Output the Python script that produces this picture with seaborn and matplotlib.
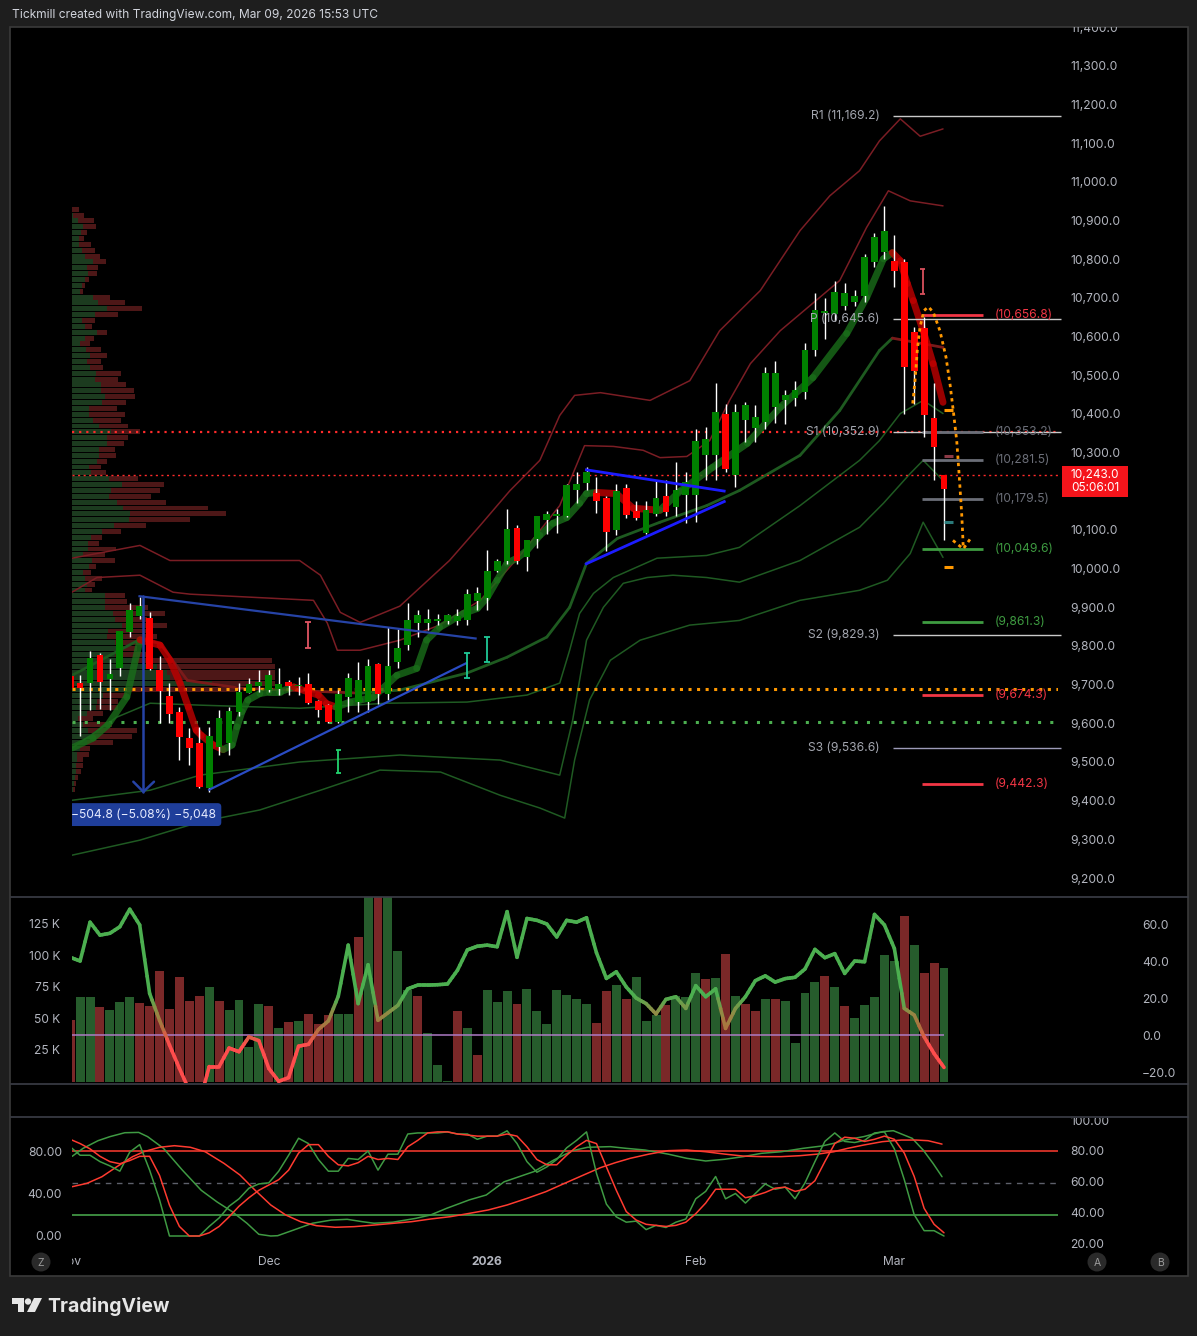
import matplotlib
matplotlib.use("Agg")
import matplotlib.pyplot as plt
import matplotlib.transforms as mtransforms
from matplotlib.collections import LineCollection
from matplotlib.colors import LinearSegmentedColormap, Normalize
from matplotlib.lines import Line2D
from matplotlib.patches import Rectangle, Circle, Polygon
import numpy as np
import seaborn as sns

# --- canvas (pixels) ---
W, H = 1197, 1336

# --- daily bars: index -1 is the half-hidden bar at the left edge ---
BAR = list(range(-1, 88))
OPEN = [9722, 9704, 9704, 9776, 9714, 9743, 9836, 9878, 9873, 9737,
        9670, 9629, 9561, 9548, 9433, 9538, 9548, 9629, 9679, 9697,
        9687, 9690, 9707, 9697, 9701, 9657, 9647, 9604, 9668, 9655,
        9655, 9753, 9677, 9758, 9803, 9860, 9860, 9864, 9864, 9864,
        9866, 9915, 9924, 9993, 10020, 10106, 10030, 10076, 10126, 10137,
        10137, 10204, 10221, 10195, 10182, 10099, 10209, 10149, 10092, 10140,
        10187, 10159, 10191, 10191, 10293, 10293, 10399, 10241, 10385, 10363,
        10379, 10419, 10435, 10441, 10456, 10566, 10660, 10659, 10680, 10690,
        10706, 10794, 10820, 10796, 10794, 10611, 10621, 10389, 10243]
HIGH = [9730, 9724, 9787, 9783, 9766, 9840, 9910, 9927, 9888, 9774,
        9703, 9643, 9587, 9590, 9591, 9634, 9642, 9703, 9716, 9737,
        9737, 9742, 9713, 9720, 9730, 9660, 9650, 9686, 9729, 9759,
        9766, 9756, 9849, 9845, 9910, 9892, 9895, 9882, 9882, 9895,
        9947, 9952, 10047, 10024, 10155, 10113, 10075, 10135, 10148, 10155,
        10220, 10250, 10264, 10238, 10189, 10218, 10220, 10176, 10176, 10226,
        10229, 10275, 10250, 10362, 10366, 10479, 10426, 10426, 10430, 10422,
        10521, 10538, 10461, 10486, 10584, 10712, 10700, 10745, 10738, 10721,
        10813, 10869, 10937, 10863, 10800, 10624, 10650, 10479, 10243]
LOW = [9680, 9568, 9634, 9636, 9634, 9722, 9823, 9871, 9738, 9602,
       9600, 9505, 9492, 9432, 9423, 9518, 9518, 9620, 9678, 9681,
       9681, 9673, 9673, 9673, 9650, 9617, 9600, 9600, 9629, 9629,
       9629, 9651, 9660, 9743, 9789, 9823, 9842, 9853, 9856, 9853,
       9853, 9894, 9894, 9990, 10013, 10011, 9993, 10053, 10089, 10093,
       10133, 10169, 10204, 10144, 10045, 10086, 10130, 10125, 10090, 10135,
       10135, 10135, 10118, 10120, 10228, 10228, 10250, 10210, 10327, 10327,
       10361, 10377, 10375, 10420, 10439, 10551, 10594, 10640, 10670, 10680,
       10690, 10780, 10800, 10727, 10400, 10426, 10340, 10228, 10073]
CLOSE = [9692, 9692, 9768, 9707, 9727, 9839, 9894, 9903, 9740, 9684,
         9623, 9565, 9537, 9436, 9568, 9615, 9631, 9681, 9701, 9707,
         9724, 9701, 9696, 9700, 9653, 9634, 9604, 9675, 9716, 9711,
         9748, 9675, 9748, 9796, 9866, 9879, 9869, 9869, 9879, 9877,
         9935, 9938, 9993, 10021, 10103, 10021, 10075, 10135, 10142, 10142,
         10215, 10218, 10251, 10174, 10095, 10202, 10138, 10131, 10151, 10183,
         10146, 10204, 10223, 10329, 10336, 10406, 10258, 10404, 10424, 10393,
         10505, 10505, 10448, 10461, 10566, 10670, 10667, 10716, 10712, 10706,
         10807, 10857, 10874, 10769, 10521, 10510, 10396, 10314, 10207]
LAST_PRICE = 10243.0
COUNTDOWN = "05:06:01"

# --- volume (thousands) and its bar colour (1 = up) ---
VOLUME = [48.8, 66.8, 66.8, 58.9, 56.7, 62.8, 66.8, 62.0, 59.9, 87.7,
          57.5, 82.7, 63.9, 67.9, 74.8, 63.9, 56.7, 64.7, 27.6, 61.5,
          59.9, 42.7, 47.2, 48.0, 53.6, 45.6, 52.5, 53.6, 53.6, 114.7,
          170.0, 160.0, 150.0, 103.6, 72.6, 67.9, 38.2, 13.1, 0.4, 56.0,
          42.7, 21.3, 72.6, 63.1, 71.8, 61.5, 73.4, 56.0, 45.6, 72.6,
          68.7, 65.5, 61.5, 46.4, 72.1, 76.6, 65.7, 82.7, 48.0, 52.8,
          60.7, 67.9, 67.3, 85.9, 81.1, 81.9, 101.2, 67.9, 61.5, 56.0,
          65.5, 65.5, 63.9, 30.6, 70.2, 79.0, 83.7, 75.0, 59.9, 50.4,
          60.7, 67.1, 100.4, 95.9, 131.4, 108.3, 86.1, 94.1, 90.1]
VOL_UP = [0, 1, 1, 0, 1, 1, 1, 0, 0, 0,
          0, 0, 0, 0, 1, 0, 1, 1, 1, 1,
          0, 1, 0, 1, 0, 0, 0, 1, 1, 0,
          1, 0, 1, 1, 1, 0, 1, 1, 1, 0,
          1, 0, 1, 1, 1, 0, 1, 1, 1, 1,
          1, 1, 1, 0, 0, 1, 0, 1, 1, 1,
          0, 1, 1, 1, 0, 1, 0, 1, 0, 0,
          1, 0, 1, 1, 1, 1, 0, 1, 0, 1,
          1, 1, 1, 1, 0, 1, 0, 0, 1]

# --- momentum oscillator drawn over the volume pane ---
OSC = [42, 40, 61, 54, 55, 58.5, 68, 59.5, 22.5, 8,
       -5.4, -18, -30, -37, -17, -17, -7, -9, -1, -3,
       -18, -25, -23, -6, -5, 3, 7.6, 21, 48.6, 17,
       38, 8, 12, 16, 25, 27, 27, 27.2, 27.6, 35,
       46, 48, 48.6, 47.7, 66.7, 42, 63, 62, 60, 53,
       62, 61, 63.4, 44.5, 30.6, 34.2, 26, 20, 17, 11.4,
       19.3, 20.7, 14.4, 26.7, 20.7, 25, 3.6, 14.4, 20.7, 29.4,
       32, 28.6, 30.5, 31.2, 35.7, 46.3, 41.8, 44, 33.3, 40,
       39.6, 65.2, 59.5, 46.8, 14.4, 10.8, -1, -10, -17.5]

# --- stochastics (bottom pane) ---
K_FAST = [84, 76, 76, 70, 66, 61, 79, 86, 62, 34,
          0, 0, 0, 0, 9, 17, 28, 35, 45, 49,
          50, 61, 76, 92, 87, 72, 61, 61, 73, 72,
          80, 62, 77, 77, 96, 97, 97, 97, 98, 96,
          96, 91, 94, 94, 99, 87, 70, 60, 65, 72,
          83, 90, 98, 59, 30, 18, 13, 14, 6, 10,
          8, 13, 16, 35, 42, 56, 35, 40, 31, 40,
          49, 44, 46, 35, 50, 70, 89, 97, 89, 88,
          90, 97, 98, 82, 53, 20, 5, 5, 0]
D_FAST = [91, 87, 82, 75, 70, 68, 71, 75, 75, 57,
          29, 9, 0, 0, 3, 9, 18, 28, 36, 43,
          48, 53, 62, 78, 86, 86, 75, 67, 66, 69,
          75, 72, 73, 72, 84, 90, 97, 98, 98, 96,
          95, 94, 94, 94, 96, 94, 84, 72, 67, 67,
          76, 84, 90, 87, 65, 43, 23, 15, 11, 10,
          9, 10, 13, 21, 31, 44, 44, 44, 36, 38,
          41, 45, 46, 42, 44, 52, 70, 87, 93, 92,
          89, 91, 94, 91, 78, 56, 26, 11, 3]
SLOW_K_X = [-0.8, 0.3, 1.8, 3.0, 4.5, 5.9, 6.8, 8.4, 10.3, 12.2, 13.8, 15.3, 16.8, 18.0,
            19.2, 19.9, 21.5, 23.4, 25.3, 26.9, 28.4, 29.6, 31.5, 33.8, 35.3, 36.9, 39.2,
            40.9, 42.7, 44.2, 45.7, 47.7, 49.6, 51.1, 53.4, 55.0, 56.9, 59.2, 61.1, 63.0,
            64.9, 66.8, 68.6, 70.6, 72.8, 74.7, 75.9, 77.0, 78.9, 80.8, 81.9, 83.8, 84.9,
            85.9, 86.8]
SLOW_K = [75, 82.5, 89.7, 93.5, 97.2, 97.5, 93.5, 82.5, 62, 43, 32, 23, 12, 1.6,
          0, 0.3, 5.6, 12, 15, 15.7, 13.5, 12, 13, 16.6, 19.8, 26, 34,
          38.6, 51, 55.8, 60.6, 71.5, 80.3, 83.5, 84.1, 82.5, 80.9, 77.1, 73.1, 70.6,
          72.2, 74.7, 77.8, 79.3, 82.5, 84.7, 87.2, 90.3, 93.5, 98.2, 99.1, 91.9, 80.9,
          68.3, 55.8]
SLOW_D_X = [-0.8, 0.7, 2.2, 3.7, 5.3, 6.4, 8.0, 9.5, 11.1, 12.6, 14.5, 16.1, 17.6, 19.2,
            20.7, 22.2, 23.8, 25.7, 27.6, 29.6, 31.5, 33.4, 35.3, 37.3, 39.2, 41.1, 43.0,
            45.0, 46.9, 48.8, 50.7, 52.4, 53.9, 55.4, 57.3, 59.2, 61.1, 63.0, 64.9, 66.8,
            68.6, 70.6, 72.5, 74.3, 75.9, 77.3, 78.9, 80.8, 82.7, 84.2, 85.4, 86.8]
SLOW_D = [46.4, 49.6, 55.8, 65.2, 74.7, 79.3, 83.5, 85, 83.5, 79.3, 68.3, 57.4, 43.3, 29.2,
          19.8, 13.5, 9.7, 8.2, 8.8, 10.3, 11.9, 13.5, 16, 18.2, 21.3, 24.5, 29.2,
          35.4, 41.7, 49.6, 57.4, 64.3, 69, 73.1, 77.1, 80.3, 80.9, 79.3, 77.1, 75.2,
          74.7, 74.7, 75.6, 77.1, 79.3, 82.5, 85.6, 88.8, 90.3, 90.3, 89.7, 86.5]
STOCH_LEVELS = [80, 50, 20]

# --- volume profile rows (top -> bottom), buy / sell volume ---
VP_TOP = 10937
VP_ROW = 15.15
VP_UP = [0, 1.3, 6.3, 11.3, 9, 7.3, 7.3, 10.3, 13.3, 21.3,
         15.3, 16, 13, 10, 8, 21.3, 26, 35, 23, 10,
         13.3, 25, 13, 8, 14, 18, 15.3, 18, 24, 23,
         29, 29, 33, 30, 17.3, 17.3, 21.3, 27.3, 39, 35,
         35, 27, 27, 25, 17, 19, 37, 50, 39, 37,
         45, 51, 58, 57, 42, 30, 19, 16, 16, 11,
         20, 17, 11, 13, 14.7, 13, 33, 33, 33, 41.3,
         43, 49.7, 36.3, 34.7, 43, 44.7, 43, 64.7, 84.7, 94.7,
         98, 139.7, 54.7, 31.3, 24.7, 24, 14.7, 6.3, 11.3, 16.3,
         21.3, 14.7, 8, 4.7, 4.7, 4, 4, 3, 2, 1.3]
VP_DOWN = [7, 10.7, 15.7, 12.7, 6, 4.7, 11.7, 12.7, 14.7, 12.7,
           10.7, 9, 4, 3, 3, 16.7, 27, 35, 23, 13,
           6.7, 10, 9, 10, 15, 17, 13.7, 13, 25, 23,
           25, 33, 30, 24, 27.7, 35.7, 27.7, 28.7, 29, 21,
           17, 16, 17, 10, 12, 15, 29, 42, 49, 42,
           49, 85, 96, 61, 32, 19, 11, 11, 28, 22,
           23, 7, 8, 17, 8.3, 6.7, 20, 21.7, 43, 51.7,
           31.7, 45, 38.4, 50, 30, 20, 35, 135, 118, 108,
           105, 63, 110, 23.4, 21.6, 22.3, 16.6, 15, 28.4, 48.4,
           38.4, 26.6, 10, 12.3, 6.6, 7.3, 4.7, 3.3, 2, 1.7]

# --- overlays on price (bar index, price) ---
EMA_X = [-0.82, 1.3, 2.8, 4.7, 6.04, 8.05, 9.05, 10.06, 10.9, 11.7,
         12.2, 13.4, 14.4, 15.3, 15.8, 16.3, 16.9, 18.1, 19.0, 20.1,
         21.5, 23.0, 24.0, 24.8, 25.8, 27.2, 28.2, 29.5, 31.9, 33.9,
         34.9, 36.2, 38.6, 40.0, 41.0, 42.0, 43.0, 44.0, 45.0, 46.3,
         47.6, 49.0, 50.3, 51.0, 52.0, 54.0, 55.7, 58.4, 60.4, 63.7,
         67.2, 70.5, 73.8, 77.2, 79.2, 80.9, 81.8, 82.6, 83.3, 83.9,
         84.9, 85.9, 86.9]
EMA_P = [9536, 9562, 9596, 9668, 9816, 9802, 9763, 9704, 9642, 9582,
         9569, 9544, 9532, 9544, 9591, 9630, 9660, 9677, 9681, 9681,
         9694, 9681, 9673, 9651, 9642, 9655, 9660, 9667, 9724, 9742,
         9815, 9848, 9884, 9897, 9926, 9970, 10014, 10027, 10047, 10086,
         10117, 10132, 10169, 10194, 10197, 10194, 10156, 10151, 10200, 10262,
         10324, 10417, 10494, 10608, 10701, 10801, 10817, 10796, 10737, 10693,
         10615, 10530, 10430]
BASIS_X = [-0.82, 6.03, 8.05, 10.8, 16.1, 28.2, 32.2, 38.97, 43.0, 47.0, 49.3,
           51.0, 54.1, 58.4, 63.1, 66.4, 72.5, 76.5, 80.5, 81.8, 86.9]
BASIS_P = [9724, 9817, 9807, 9711, 9691, 9678, 9686, 9730, 9771, 9823, 9900,
           10014, 10078, 10120, 10163, 10202, 10293, 10409, 10564, 10596, 10572]
UPPER_OUT_X = [-0.82, 6.03, 9.05, 12.07, 22.1, 24.2, 26.2, 28.2, 32.2, 37.2, 40.3, 43.3,
               46.3, 48.3, 49.8, 52.4, 57.4, 61.4, 64.4, 68.5, 72.5, 75.5, 78.5, 80.5,
               82.6, 84.6, 86.9]
UPPER_OUT_P = [10027, 10060, 10021, 10021, 10021, 9983, 9887, 9861, 9903, 10021, 10112, 10202,
               10280, 10396, 10448, 10455, 10435, 10486, 10615, 10719, 10874, 10964, 11029, 11106,
               11163, 11118, 11137]
UPPER_IN_X = [-0.82, 1.7, 6.03, 9.36, 11.07, 23.5, 24.9, 25.9, 28.2, 32.2, 36.2, 40.3, 44.3,
              48.3, 50.8, 53.7, 56.7, 58.4, 61.1, 63.4, 65.4, 67.5, 70.5, 73.5, 76.5, 79.2,
              81.4, 83.6, 86.9]
UPPER_IN_P = [9939, 9977, 9983, 9939, 9934, 9918, 9859, 9789, 9789, 9815, 9854, 9918, 10034,
              10163, 10318, 10316, 10306, 10287, 10290, 10331, 10435, 10530, 10615, 10680, 10745, 10882,
              10977, 10951, 10938]
LOWER_1_X = [-0.82, 3.7, 7.05, 12.07, 22.1, 30.9, 38.97, 45.0, 48.3, 49.3, 50.3, 51.7, 53.7,
             58.1, 63.1, 66.4, 72.5, 78.5, 80.5, 82.6, 84.9, 86.9]
LOWER_1_P = [9536, 9616, 9652, 9647, 9639, 9652, 9655, 9673, 9704, 9789, 9884, 9936, 9977,
             10027, 10034, 10055, 10163, 10280, 10331, 10401, 10435, 10401]
LOWER_2_X = [-0.82, 7.05, 12.07, 22.1, 32.2, 42.3, 48.3, 49.6, 51.0, 52.7, 54.7, 57.1, 59.7,
             63.1, 66.4, 72.5, 78.5, 80.9, 83.6, 84.9, 86.9]
LOWER_2_P = [9401, 9427, 9466, 9500, 9518, 9505, 9466, 9608, 9815, 9900, 9962, 9977, 9983,
             9977, 9965, 10021, 10107, 10169, 10246, 10280, 10228]
LOWER_3_X = [-0.82, 6.03, 12.07, 18.1, 24.2, 30.2, 36.3, 42.3, 46.3, 48.8, 49.8, 51.3, 53.4,
             56.4, 61.4, 66.4, 72.5, 78.5, 81.3, 83.6, 84.9, 86.9]
LOWER_3_P = [9259, 9298, 9345, 9376, 9427, 9479, 9474, 9414, 9381, 9355, 9505, 9660, 9763,
             9815, 9854, 9866, 9918, 9944, 9970, 10039, 10120, 10029]

# --- horizontal levels ---
DOTTED_LEVELS = [10352.9, LAST_PRICE, 9688.0, 9603.0]
DOTTED_COLORS = ["#ff2b2b", "#ff2b2b", "#ff9800", "#4caf50"]
PIVOT_NAMES = ["R1", "P", "S1", "S2", "S3"]
PIVOT_VALUES = [11169.2, 10645.6, 10352.9, 9829.3, 9536.6]
PIVOT_COLORS = ["#c9c9c9", "#c9c9c9", "#c9c9c9", "#c9c9c9", "#9d9bb8"]
LEVEL_VALUES = [10656.8, 10353.2, 10281.5, 10179.5, 10049.6, 9861.3, 9674.3, 9442.3]
LEVEL_COLORS = ["#f23645", "#6b6e78", "#6b6e78", "#6b6e78", "#3e9b41", "#3e9b41", "#f23645", "#f23645"]

# --- drawings ---
TREND_LINES = [([5.87, 39.94], [9929, 9819], "#2643a6", 1.6),
               ([12.9, 38.93], [9427, 9756], "#2a4cc4", 1.6),
               ([50.85, 65.0], [10256, 10200], "#1c1cff", 2.0),
               ([50.85, 65.0], [10011, 10175], "#1c1cff", 2.0)]
MEASURE_X = 6.37
MEASURE_FROM, MEASURE_TO = 9929, 9423
MEASURE_HEAD_X = [5.36, 6.37, 7.44]
MEASURE_HEAD_P = [9449, 9423, 9449]
MEASURE_LABEL_P = 9364
MEASURE_TEXT = "\u2212504.8 (\u22125.08%) \u22125,048"
FC_X = [83.85, 84.08, 84.31, 84.58, 84.98, 85.42, 85.92, 86.59, 87.2, 87.6, 87.93, 88.28,
        88.54, 88.78, 88.88, 88.94]
FC_P = [10427, 10486, 10564, 10624, 10667, 10677, 10663, 10615, 10547, 10478, 10409, 10331,
        10237, 10142, 10090, 10051]
FC_HEAD_X = [87.9, 88.94, 89.62]
FC_HEAD_P = [10073, 10051, 10076]
ERR_X = [22.95, 26.0, 38.97, 40.98, 84.87]
ERR_LO = [9794, 9471, 9717, 9758, 10711]
ERR_HI = [9861, 9531, 9781, 9822, 10776]
ERR_COLORS = ["#e05563", "#22d36e", "#20c997", "#20c997", "#d9505c"]
MARK_P = [10409, 10290, 10120, 10003]
MARK_COLORS = ["#ff9800", "#8b3a46", "#2a7a7a", "#ff9800"]

# --- axis text ---
# 10,200.0 sits under the last-price tag, so it is not listed
PRICE_TICKS = [p for p in range(9200, 11401, 100) if p != 10200]
VOL_TICKS = [25, 50, 75, 100, 125]
OSC_TICKS = [-20, 0, 20, 40, 60]
STOCH_LEFT_TICKS = [0, 40, 80]
STOCH_RIGHT_TICKS = [20, 40, 60, 80, 100]
XLABELS = ["Nov", "Dec", "2026", "Feb", "Mar"]
XLABEL_POS = [-1.02, 19, 41, 62, 82]

XMIN, XMAX = -0.816, 98.48
VP_SCALE = 1 / 9.93
GREEN, RED = "#008000", "#ff0000"
LABEL = "#b2b5be"

sns.set_theme(style="dark", rc={"axes.facecolor": "none", "figure.facecolor": "#1e1e1e"})
plt.rcParams["font.family"] = ["Inter", "DejaVu Sans"]

fig = plt.figure(figsize=(W / 100, H / 100), dpi=100)
fig.patch.set_facecolor("#1e1e1e")
PX = mtransforms.Affine2D().scale(1 / W, -1 / H).translate(0, 1) + fig.transFigure


def fx(x):
    return x / W


def fy(y):
    return 1 - y / H


def add_panel(x0, y0, x1, y1):
    ax = fig.add_axes([fx(x0), fy(y1), (x1 - x0) / W, (y1 - y0) / H])
    ax.set_facecolor("none")
    for s in ax.spines.values():
        s.set_visible(False)
    ax.set_xlim(XMIN, XMAX)
    ax.set_xticks([])
    ax.grid(False)
    return ax


def style_ticks(ax, side, pad):
    ax.tick_params(axis="y", length=0, pad=pad, labelsize=8.7, labelcolor=LABEL,
                   left=False, right=False,
                   labelleft=(side == "left"), labelright=(side == "right"))


def clip_labels(axis, box):
    for t in axis.get_major_ticks():
        for lab in (t.label1, t.label2):
            lab.set_clip_box(box)
            lab.set_clip_on(True)


# chart frame and pane separators
fig.add_artist(Rectangle((10, 27), 1178, 1249, transform=PX, facecolor="black",
                         edgecolor="#3a3a3a", lw=1.2, zorder=-5))
for ys in (896.5, 1083.5, 1117.0):
    fig.add_artist(Line2D([10.5, 1187.5], [ys, ys], transform=PX, color="#3b3e47", lw=1.2))

fig.text(12, 15, "Tickmill created with TradingView.com, Mar 09, 2026 15:53 UTC", transform=PX,
         va="center", ha="left", color="#d1d4dc", fontsize=8.6)

# ================= price pane =================
ax_p = add_panel(72, 27, 1058, 896)
ax_p.set_ylim(9153.5, 11400.5)

rows = VP_TOP - VP_ROW * (np.arange(len(VP_UP)) + 0.5)
vp_up = np.array(VP_UP) * VP_SCALE
vp_dn = np.array(VP_DOWN) * VP_SCALE
ax_p.barh(rows, vp_up, left=XMIN, height=VP_ROW * 0.84, color="#1c3b1f", linewidth=0, zorder=1)
ax_p.barh(rows, vp_dn, left=XMIN + vp_up, height=VP_ROW * 0.84, color="#4d1717", linewidth=0, zorder=1)

for xs, ps, col in [(UPPER_OUT_X, UPPER_OUT_P, "#7a1d24"), (UPPER_IN_X, UPPER_IN_P, "#7a1d24"),
                    (LOWER_1_X, LOWER_1_P, "#1f5a22"), (LOWER_2_X, LOWER_2_P, "#1f5a22"),
                    (LOWER_3_X, LOWER_3_P, "#1f5a22")]:
    sns.lineplot(x=xs, y=ps, ax=ax_p, color=col, lw=1.1, estimator=None, sort=False,
                 legend=False, zorder=2)


def slope_lines(ax, xs, ps, up_col, dn_col, lw, alpha, z):
    pts = np.column_stack([xs, ps])
    segs = np.stack([pts[:-1], pts[1:]], axis=1)
    cols = [up_col if b[1] >= a[1] else dn_col for a, b in zip(pts[:-1], pts[1:])]
    ax.add_collection(LineCollection(segs, colors=cols, linewidths=lw, alpha=alpha,
                                     zorder=z, capstyle="round", joinstyle="round"))


slope_lines(ax_p, BASIS_X, BASIS_P, "#1e5a20", "#7a1a1a", 2.0, 1.0, 2.2)

dot_styles = [(1.6, (0, (1, 2.2))), (1.0, (0, (1.5, 2.5))), (2.2, (0, (1, 1.8))), (2.2, (0, (1, 3)))]
for lvl, col, (lw, ls) in zip(DOTTED_LEVELS, DOTTED_COLORS, dot_styles):
    ax_p.axhline(lvl, color=col, lw=lw, linestyle=ls, zorder=2.5)

slope_lines(ax_p, EMA_X, EMA_P, "#1a6e1a", "#c00000", 5.0, 0.8, 3)

# candles
o, c = np.array(OPEN), np.array(CLOSE)
body_lo = np.minimum(o, c)
body_h = np.maximum(np.abs(c - o), 3)
ax_p.vlines(BAR, LOW, HIGH, color="white", lw=1, zorder=4)
ax_p.bar(BAR, body_h, bottom=body_lo, width=0.68, color=[GREEN if cc >= oo else RED for oo, cc in zip(o, c)],
         linewidth=0, zorder=4.5)

# pivots and levels
PIVOT_X0 = 81.86
for name, val, col in zip(PIVOT_NAMES, PIVOT_VALUES, PIVOT_COLORS):
    ax_p.hlines(val, PIVOT_X0, XMAX + 0.3, color=col, lw=1, zorder=3, clip_on=False)
    ax_p.text(80.5, val, f"{name} ({val:,.1f})", ha="right", va="center", color="#a3a6af",
              fontsize=8.7, zorder=6)
for val, col in zip(LEVEL_VALUES, LEVEL_COLORS):
    ax_p.hlines(val, 84.79, 90.93, color=col, lw=2, zorder=3.5)
    ax_p.text(92.13, val, f"({val:,.1f})", ha="left", va="center", color=col, fontsize=8.7, zorder=6)

# drawings
for xs, ps, col, lw in TREND_LINES:
    ax_p.plot(xs, ps, color=col, lw=lw, zorder=5, solid_capstyle="butt")
ax_p.plot([MEASURE_X, MEASURE_X], [MEASURE_FROM, MEASURE_TO], color="#2643a6", lw=1.8, zorder=5)
ax_p.plot(MEASURE_HEAD_X, MEASURE_HEAD_P, color="#2643a6", lw=1.8, zorder=5)
ax_p.text(MEASURE_X, MEASURE_LABEL_P, MEASURE_TEXT, ha="center", va="center", color="#e6ebff",
          fontsize=8.7, zorder=7, clip_on=True,
          bbox=dict(boxstyle="round,pad=0.45,rounding_size=0.3", fc="#1f3e9a", ec="none"))
ax_p.plot(FC_X, FC_P, color="#ff9800", lw=2, linestyle=(0, (1.2, 1.4)), zorder=6)
ax_p.plot(FC_HEAD_X, FC_HEAD_P, color="#ff9800", lw=2, linestyle=(0, (1.2, 1.4)), zorder=6)
ax_p.vlines(ERR_X, ERR_LO, ERR_HI, colors=ERR_COLORS, lw=1.3, zorder=5)
ax_p.scatter(ERR_X + ERR_X, ERR_LO + ERR_HI, marker="_", s=14, c=ERR_COLORS + ERR_COLORS,
             linewidths=1.3, zorder=5)
ax_p.hlines(MARK_P, 87.0, 87.9, colors=MARK_COLORS, lw=2.2, zorder=5)

ax_p.yaxis.tick_right()
ax_p.set_yticks(PRICE_TICKS)
ax_p.set_yticklabels([f"{v:,.1f}" for v in PRICE_TICKS])
style_ticks(ax_p, "right", 8.6)
clip_labels(ax_p.yaxis, mtransforms.TransformedBbox(
    mtransforms.Bbox.from_extents(fx(10), fy(896), fx(1188), fy(27)), fig.transFigure))

# last price tag (price and bar countdown in one two-line label)
y_last = H - ax_p.transData.transform((0, LAST_PRICE))[1]
fig.add_artist(Rectangle((1062, y_last - 9), 66, 31, transform=PX, facecolor="#f5141b",
                         edgecolor="none", zorder=8))
fig.text(1095, y_last + 6.5, f"{LAST_PRICE:,.1f}\n{COUNTDOWN}", transform=PX, ha="center",
         va="center", color="white", fontsize=8.5, linespacing=1.12, zorder=9)

# ================= volume + oscillator pane =================
ax_v = add_panel(72, 897, 1058, 1083)
ax_v.set_ylim(-1.19, 146.4)
ax_v.bar(BAR, VOLUME, width=0.9, color=["#265c2c" if u else "#7a2828" for u in VOL_UP],
         linewidth=0, zorder=2)
ax_v.yaxis.tick_right()
ax_v.set_yticks(VOL_TICKS)
ax_v.set_yticklabels([f"{v} K" for v in VOL_TICKS])
style_ticks(ax_v, "right", 8.6)

ax_o = ax_v.twinx()
ax_o.set_facecolor("none")
for s in ax_o.spines.values():
    s.set_visible(False)
ax_o.grid(False)
ax_o.set_xlim(XMIN, XMAX)
ax_o.set_ylim(-25.9, 74.6)
ax_o.hlines(0, BAR[0], BAR[-1], color="#b07cc9", lw=1.2, alpha=0.9, zorder=2)
osc_cmap = LinearSegmentedColormap.from_list("osc", ["#ff4d4d", "#ff4d4d", "#b0703e", "#8f8c45", "#4caf50", "#4caf50"])
osc_norm = Normalize(-14, 30)
segs, cols = [], []
for i in range(len(BAR) - 1):
    for k in range(4):
        t0, t1 = k / 4, (k + 1) / 4
        xa = BAR[i] + t0 * (BAR[i + 1] - BAR[i])
        xb = BAR[i] + t1 * (BAR[i + 1] - BAR[i])
        ya = OSC[i] + t0 * (OSC[i + 1] - OSC[i])
        yb = OSC[i] + t1 * (OSC[i + 1] - OSC[i])
        segs.append([(xa, ya), (xb, yb)])
        cols.append(osc_cmap(osc_norm((ya + yb) / 2)))
ax_o.add_collection(LineCollection(segs, colors=cols, linewidths=2.6, zorder=3, capstyle="round"))
ax_o.set_yticks(OSC_TICKS)
ax_o.set_yticklabels([f"{v:.1f}".replace("-", "\u2212") for v in OSC_TICKS])
style_ticks(ax_o, "right", 60.5)

# ================= stochastic pane =================
ax_s = add_panel(72, 1118, 1058, 1250)
ax_s.set_ylim(-13.18, 111.06)
ax_s.axhline(STOCH_LEVELS[0], color="#ff3b30", lw=1.1, zorder=1)
ax_s.axhline(STOCH_LEVELS[1], color="#5d606b", lw=1.0, linestyle=(0, (4, 4)), zorder=1)
ax_s.axhline(STOCH_LEVELS[2], color="#4caf50", lw=1.1, zorder=1)
sns.lineplot(x=SLOW_K_X, y=SLOW_K, ax=ax_s, color="#3f9a43", lw=1.1, estimator=None, sort=False, legend=False)
sns.lineplot(x=SLOW_D_X, y=SLOW_D, ax=ax_s, color="#ff3b30", lw=1.1, estimator=None, sort=False, legend=False)
sns.lineplot(x=BAR, y=K_FAST, ax=ax_s, color="#3f9a43", lw=1.1, estimator=None, sort=False, legend=False)
sns.lineplot(x=BAR, y=D_FAST, ax=ax_s, color="#ff3b30", lw=1.1, estimator=None, sort=False, legend=False)
ax_s.set_xlim(XMIN, XMAX)
ax_s.set_xticks([])
ax_s.set_xlabel("")
ax_s.set_ylabel("")
ax_s.set_yticks(STOCH_LEFT_TICKS)
ax_s.set_yticklabels([f"{v:.2f}" for v in STOCH_LEFT_TICKS])
style_ticks(ax_s, "left", 7.2)

ax_s2 = ax_s.twinx()
ax_s2.set_facecolor("none")
for s in ax_s2.spines.values():
    s.set_visible(False)
ax_s2.grid(False)
ax_s2.set_ylim(15.6, 101.46)
ax_s2.set_yticks(STOCH_RIGHT_TICKS)
ax_s2.set_yticklabels([f"{v:.2f}" for v in STOCH_RIGHT_TICKS])
style_ticks(ax_s2, "right", 8.6)
clip_labels(ax_s2.yaxis, mtransforms.TransformedBbox(
    mtransforms.Bbox.from_extents(fx(10), fy(1276), fx(1188), fy(1117.5)), fig.transFigure))

# time axis
time_clip = mtransforms.TransformedBbox(mtransforms.Bbox.from_extents(fx(72), 0, fx(1188), 1), fig.transFigure)
y_axes = -(1262 - 1250) / (1250 - 1118)
for lab, pos in zip(XLABELS, XLABEL_POS):
    t = ax_s.text(pos, y_axes, lab, transform=ax_s.get_xaxis_transform(), ha="center", va="center",
                  color=LABEL, fontsize=8.7, fontweight="bold" if lab == "2026" else "normal")
    t.set_clip_path(None)
    t.set_clip_box(time_clip)
    t.set_clip_on(True)

for letter, cx in (("Z", 41), ("A", 1097), ("B", 1160)):
    fig.add_artist(Circle((cx, 1262), 9.5, transform=PX, facecolor="#2a2a2a", edgecolor="none"))
    fig.text(cx, 1262.5, letter, transform=PX, ha="center", va="center", color="#9a9a9a", fontsize=7.5)

# footer logo
fig.add_artist(Rectangle((12, 1298), 11.5, 6, transform=PX, facecolor="#e6e6e6", edgecolor="none"))
fig.add_artist(Rectangle((18, 1298), 5.5, 14, transform=PX, facecolor="#e6e6e6", edgecolor="none"))
fig.add_artist(Circle((28, 1301.5), 3.2, transform=PX, facecolor="#e6e6e6", edgecolor="none"))
fig.add_artist(Polygon([(34, 1298), (42, 1298), (35, 1312), (27, 1312)], closed=True, transform=PX,
                       facecolor="#e6e6e6", edgecolor="none"))
fig.text(47, 1306, "TradingView", transform=PX, ha="left", va="center", color="#e6e6e6",
         fontsize=14, fontweight="bold")

fig.savefig("out.png", dpi=100, facecolor=fig.get_facecolor())
